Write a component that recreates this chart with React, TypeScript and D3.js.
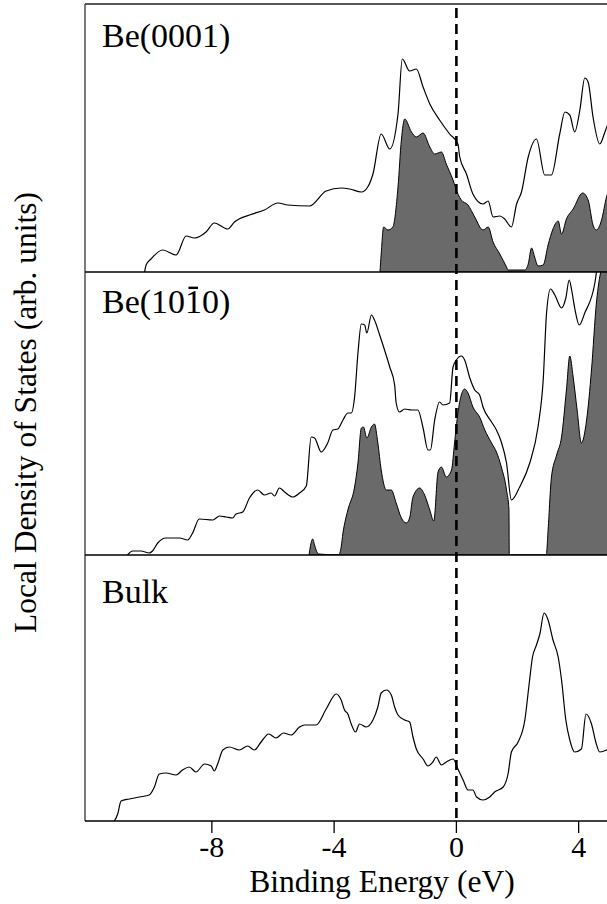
import React from "react";
import * as d3 from "d3";

// ---------- data (binding energy in eV, LDOS in arb. units) ----------
const panelLabels = ["Be(0001)", "Be(1010)", "Bulk"];
const xTicks = [-8, -4, 0, 4];

const be0001Total: [number, number][] = [
  [-10.2, 0], [-10.15, 0.07], [-9.99, 0.13], [-9.61, 0.22], [-9.17, 0.17], [-8.84, 0.36], [-8.57, 0.34],
  [-8.19, 0.4], [-7.92, 0.49], [-7.48, 0.43], [-7.26, 0.5], [-6.77, 0.57], [-6.28, 0.62], [-5.84, 0.69],
  [-5.52, 0.67], [-4.81, 0.66], [-4.26, 0.81], [-3.77, 0.84], [-3.49, 0.83], [-3.11, 0.8], [-2.9, 0.85],
  [-2.73, 0.98], [-2.46, 1.38], [-2.18, 1.23], [-1.91, 1.58], [-1.77, 2.13], [-1.53, 2.01], [-1.31, 2.03],
  [-1.09, 1.85], [-0.87, 1.68], [-0.55, 1.52], [-0.22, 1.38], [0.05, 1.28], [0.11, 1.15], [0.33, 0.98],
  [0.54, 0.78], [0.87, 0.68], [1.04, 0.71], [1.2, 0.55], [1.42, 0.56], [1.58, 0.53], [1.8, 0.45],
  [1.97, 0.68], [2.13, 0.8], [2.35, 1.15], [2.62, 1.33], [2.89, 0.97], [3.11, 0.97], [3.38, 1.38],
  [3.55, 1.6], [3.71, 1.57], [3.87, 1.4], [4.04, 1.62], [4.2, 1.94], [4.31, 1.9], [4.47, 1.55],
  [4.69, 1.28], [4.86, 1.4], [4.92, 1.45], [5.1, 1.55],
];

const be0001Surface: [number, number][] = [
  [-2.5, 0], [-2.46, 0.18], [-2.38, 0.45], [-2.24, 0.42], [-2.08, 0.45], [-1.91, 0.85], [-1.8, 1.32],
  [-1.69, 1.53], [-1.47, 1.4], [-1.31, 1.35], [-1.09, 1.39], [-0.87, 1.25], [-0.71, 1.18], [-0.49, 1.2],
  [-0.33, 1.08], [-0.11, 0.92], [0.05, 0.78], [0.16, 0.72], [0.38, 0.67], [0.6, 0.55], [0.87, 0.42],
  [1.04, 0.45], [1.2, 0.3], [1.42, 0.18], [1.64, 0.05], [1.69, 0.02], [2.24, 0.02], [2.35, 0.08],
  [2.46, 0.24], [2.56, 0.15], [2.67, 0.06], [2.84, 0.07], [3.0, 0.27], [3.16, 0.43], [3.33, 0.51],
  [3.44, 0.38], [3.6, 0.53], [3.82, 0.63], [4.13, 0.79], [4.31, 0.72], [4.47, 0.47], [4.58, 0.42],
  [4.75, 0.52], [4.91, 0.75], [5.1, 0.9],
];

const be1010Total: [number, number][] = [
  [-10.76, 0], [-10.59, 0.04], [-10.32, 0.04], [-10.05, 0.02], [-9.94, 0.04], [-9.77, 0.12], [-9.5, 0.17],
  [-9.06, 0.17], [-8.79, 0.15], [-8.63, 0.22], [-8.41, 0.36], [-7.97, 0.35], [-7.75, 0.39], [-7.53, 0.38],
  [-7.32, 0.37], [-7.21, 0.41], [-6.99, 0.43], [-6.77, 0.57], [-6.5, 0.65], [-6.28, 0.6], [-6.06, 0.62],
  [-5.95, 0.59], [-5.79, 0.67], [-5.62, 0.63], [-5.35, 0.58], [-5.13, 0.62], [-4.91, 0.69], [-4.75, 1.18],
  [-4.64, 1.17], [-4.42, 1.03], [-4.21, 1.12], [-4.04, 1.25], [-3.88, 1.26], [-3.71, 1.35], [-3.55, 1.42],
  [-3.44, 1.42], [-3.33, 1.58], [-3.22, 2.02], [-3.11, 2.31], [-3.0, 2.3], [-2.93, 2.22], [-2.78, 2.4],
  [-2.68, 2.35], [-2.51, 2.2], [-2.35, 2.05], [-2.18, 1.88], [-2.02, 1.7], [-1.97, 1.52], [-1.86, 1.43],
  [-1.69, 1.46], [-1.47, 1.45], [-1.26, 1.45], [-1.09, 1.27], [-0.93, 1.05], [-0.85, 1.05], [-0.71, 1.35],
  [-0.55, 1.53], [-0.44, 1.5], [-0.22, 1.52], [-0.11, 1.88], [0.0, 1.95], [0.16, 1.99], [0.27, 1.95],
  [0.44, 1.77], [0.6, 1.65], [0.76, 1.6], [0.87, 1.48], [1.15, 1.33], [1.31, 1.25], [1.47, 1.13],
  [1.64, 0.92], [1.8, 0.55], [2.07, 0.68], [2.4, 0.92], [2.67, 1.28], [2.84, 1.75], [2.95, 2.42],
  [3.08, 2.66], [3.22, 2.6], [3.44, 2.47], [3.58, 2.57], [3.69, 2.75], [3.77, 2.65], [3.87, 2.47],
  [4.02, 2.3], [4.2, 2.42], [4.53, 2.72], [4.7, 3.1], [5.0, 3.4],
];

const be1010Surface: [number, number][] = [
  [-4.82, 0], [-4.78, 0.08], [-4.7, 0.16], [-4.64, 0.1], [-4.59, 0.05], [-4.5, 0.01], [-3.85, 0.0],
  [-3.77, 0.08], [-3.71, 0.22], [-3.55, 0.45], [-3.33, 0.68], [-3.22, 0.92], [-3.11, 1.27], [-3.04, 1.28],
  [-2.93, 1.17], [-2.78, 1.28], [-2.68, 1.31], [-2.57, 1.12], [-2.46, 0.85], [-2.29, 0.65], [-2.13, 0.65],
  [-1.97, 0.52], [-1.8, 0.37], [-1.64, 0.32], [-1.53, 0.37], [-1.42, 0.58], [-1.2, 0.67], [-1.04, 0.6],
  [-0.87, 0.45], [-0.74, 0.34], [-0.6, 0.83], [-0.49, 0.88], [-0.33, 0.78], [-0.16, 0.85], [-0.06, 1.12],
  [0.05, 1.42], [0.27, 1.66], [0.38, 1.62], [0.54, 1.48], [0.76, 1.38], [0.93, 1.25], [1.15, 1.12],
  [1.31, 1.03], [1.47, 0.88], [1.64, 0.65], [1.72, 0.45], [1.73, 0], [2.94, 0], [3.0, 0.25], [3.11, 0.78],
  [3.28, 1.0], [3.44, 1.18], [3.6, 1.65], [3.71, 1.99], [3.82, 1.78], [3.95, 1.45], [4.09, 1.12],
  [4.26, 1.35], [4.42, 1.85], [4.58, 2.52], [4.69, 2.78], [4.8, 2.9], [5.0, 3.0],
];

const bulkTotal: [number, number][] = [
  [-11.19, 0], [-11.08, 0.07], [-10.97, 0.2], [-10.7, 0.22], [-10.37, 0.24], [-10.05, 0.26], [-9.88, 0.34],
  [-9.72, 0.47], [-9.5, 0.48], [-9.17, 0.46], [-8.96, 0.51], [-8.74, 0.54], [-8.52, 0.49], [-8.24, 0.57],
  [-8.02, 0.55], [-7.92, 0.5], [-7.81, 0.57], [-7.64, 0.71], [-7.43, 0.74], [-7.1, 0.71], [-6.83, 0.75],
  [-6.61, 0.71], [-6.39, 0.79], [-6.14, 0.87], [-5.9, 0.83], [-5.66, 0.88], [-5.41, 0.86], [-5.13, 0.94],
  [-4.97, 0.96], [-4.59, 0.96], [-4.26, 1.12], [-3.93, 1.27], [-3.77, 1.21], [-3.66, 1.11], [-3.55, 1.07],
  [-3.44, 0.97], [-3.3, 0.89], [-3.17, 0.97], [-2.95, 0.94], [-2.73, 1.01], [-2.57, 1.14], [-2.46, 1.28],
  [-2.29, 1.31], [-2.13, 1.26], [-2.02, 1.14], [-1.91, 1.06], [-1.69, 1.01], [-1.53, 0.99], [-1.42, 0.84],
  [-1.31, 0.72], [-1.09, 0.62], [-0.93, 0.55], [-0.77, 0.59], [-0.66, 0.64], [-0.49, 0.56], [-0.33, 0.59],
  [-0.11, 0.62], [0.05, 0.52], [0.22, 0.41], [0.38, 0.31], [0.54, 0.31], [0.66, 0.24], [0.87, 0.21],
  [1.09, 0.24], [1.25, 0.29], [1.53, 0.34], [1.69, 0.47], [1.8, 0.69], [2.02, 0.79], [2.24, 1.01],
  [2.38, 1.37], [2.49, 1.64], [2.62, 1.76], [2.73, 1.87], [2.87, 2.08], [3.0, 2.01], [3.16, 1.81],
  [3.33, 1.64], [3.44, 1.41], [3.58, 1.01], [3.71, 0.81], [3.87, 0.69], [4.09, 0.72], [4.24, 1.07],
  [4.42, 0.97], [4.56, 0.79], [4.69, 0.69], [4.91, 0.71], [5.1, 0.75],
];

const panelTotals = [be0001Total, be1010Total, bulkTotal];
const panelSurfaces: ([number, number][] | null)[] = [be0001Surface, be1010Surface, null];
const panelYMax = [2.68, 2.83, 2.66];

// ---------- layout ----------
const W = 607;
const H = 904;
const left = 85;
const panelTop = [4, 272, 555];
const panelBottom = [272, 555, 821];
const labelBaseline = [47, 313, 603];
const serif = "'Liberation Serif', 'Times New Roman', serif";

export default function App() {
  const x = d3.scaleLinear().domain([-12.15, 7.25]).range([left, 678]);
  const axisY = panelBottom[2];

  return (
    <svg width={W} height={H} style={{ position: "absolute", left: 0, top: 0, background: "#fff" }}>
      <defs>
        {panelTop.map((t, i) => (
          <clipPath id={`clip${i}`} key={i}>
            <rect x={left} y={t} width={W - left} height={panelBottom[i] - t} />
          </clipPath>
        ))}
      </defs>
      <rect x={0} y={0} width={W} height={H} fill="#fff" />
      {panelTop.map((t, i) => {
        const y = d3.scaleLinear().domain([0, panelYMax[i]]).range([panelBottom[i], t]);
        const line = d3
          .line<[number, number]>()
          .x((d) => x(d[0]))
          .y((d) => y(d[1]))
          .curve(d3.curveMonotoneX);
        const area = d3
          .area<[number, number]>()
          .x((d) => x(d[0]))
          .y0(y(0))
          .y1((d) => y(d[1]))
          .curve(d3.curveMonotoneX);
        const surf = panelSurfaces[i];
        return (
          <g key={i} clipPath={`url(#clip${i})`}>
            {surf && (
              <path d={area(surf) || ""} fill="#6a6a6a" stroke="#000" strokeWidth={1} strokeLinejoin="round" />
            )}
            <path d={line(panelTotals[i]) || ""} fill="none" stroke="#000" strokeWidth={1.2} strokeLinejoin="round" />
          </g>
        );
      })}
      {/* Fermi level */}
      <line x1={x(0)} x2={x(0)} y1={8} y2={axisY} stroke="#000" strokeWidth={2.6} strokeDasharray="10,6" />
      {/* frames */}
      <line x1={left} x2={W} y1={panelTop[0]} y2={panelTop[0]} stroke="#222" strokeWidth={1.3} />
      <line x1={left} x2={left} y1={panelTop[0]} y2={axisY} stroke="#333" strokeWidth={1.3} />
      {panelBottom.map((b, i) => (
        <line key={i} x1={left} x2={W} y1={b} y2={b} stroke="#000" strokeWidth={1.6} />
      ))}
      {/* ticks */}
      {xTicks.map((t) => (
        <g key={t}>
          <line x1={x(t)} x2={x(t)} y1={axisY} y2={axisY + 12} stroke="#000" strokeWidth={1.3} />
          <text x={x(t)} y={857} textAnchor="middle" fontFamily={serif} fontSize={30} fill="#000">
            {t}
          </text>
        </g>
      ))}
      <text x={382} y={892} textAnchor="middle" fontFamily={serif} fontSize={31.5} fill="#000">
        Binding Energy (eV)
      </text>
      <text
        transform={`translate(35.5, ${(panelTop[0] + axisY) / 2}) rotate(-90)`}
        textAnchor="middle"
        fontFamily={serif}
        fontSize={31.5}
        fill="#000"
      >
        Local Density of States (arb. units)
      </text>
      {/* panel labels */}
      {panelLabels.map((lab, i) => {
        const fs = 34;
        const x0 = 102;
        if (i === 1) {
          const barX = x0 + 2.444 * fs;
          return (
            <g key={i}>
              <text x={x0} y={labelBaseline[i]} fontFamily={serif} fontSize={fs} fill="#000">
                {lab}
              </text>
              <line
                x1={barX + 0.1 * fs}
                x2={barX + 0.38 * fs}
                y1={labelBaseline[i] - 0.74 * fs}
                y2={labelBaseline[i] - 0.74 * fs}
                stroke="#000"
                strokeWidth={2.4}
              />
            </g>
          );
        }
        return (
          <text key={i} x={x0} y={labelBaseline[i]} fontFamily={serif} fontSize={fs} fill="#000">
            {lab}
          </text>
        );
      })}
    </svg>
  );
}
